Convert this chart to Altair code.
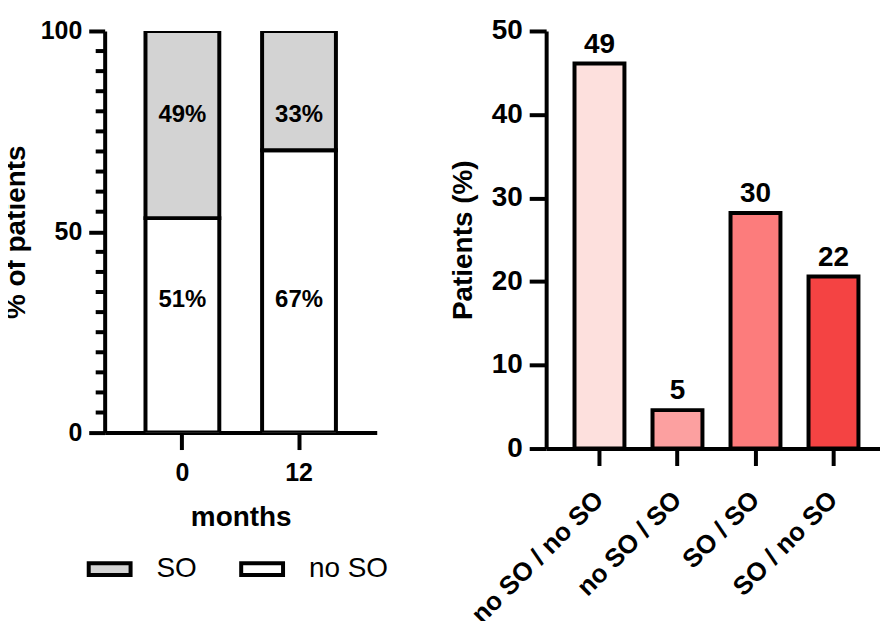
import altair as alt
import pandas as pd

FONT = "Liberation Sans"

# left panel: stacked share of patients at 0 and 12 months
months = ["0", "12"]
no_so_height = [53.4, 70.3]          # as drawn
no_so_label = ["51%", "67%"]
so_label = ["49%", "33%"]
no_so_label_y = [33, 33]
so_label_y = [79, 79]
minor_ticks = [5, 10, 15, 20, 25, 30, 35, 40, 45, 55, 60, 65, 70, 75, 80, 85, 90, 95]

# right panel: transitions 0 -> 12 months
groups = ["no SO / no SO", "no SO / SO", "SO / SO", "SO / no SO"]
group_pct = [46.1, 4.6, 28.2, 20.6]
group_label = ["49", "5", "30", "22"]
group_colors = ["#fde0dd", "#fca0a0", "#fc7c7c", "#f44343"]

rows = []
for m, h in zip(months, no_so_height):
    rows.append({"months": m, "status": "no SO", "y": 0, "y2": h})
    rows.append({"months": m, "status": "SO", "y": h, "y2": 100})
stack = pd.DataFrame(rows)

labels = pd.DataFrame({
    "months": months * 2,
    "text": no_so_label + so_label,
    "ypos": no_so_label_y + so_label_y,
})
minor = pd.DataFrame({"v": minor_ticks})

xl = alt.X("months:N", sort=months, title="months",
           scale=alt.Scale(paddingInner=0.367, paddingOuter=0.35),
           axis=alt.Axis(labelAngle=0, tickSize=17, labelPadding=11, titlePadding=18,
                         labelFontSize=25))
yscale = alt.Scale(domain=[0, 100], nice=False)

bars_left = alt.Chart(stack).mark_bar(stroke="black", strokeWidth=4, clip=True).encode(
    x=xl,
    y=alt.Y("y:Q", scale=yscale, title="% of patients",
            axis=alt.Axis(values=[0, 50, 100], tickSize=16, labelPadding=7, titlePadding=10,
                          labelFontSize=25)),
    y2="y2:Q",
    fill=alt.Fill("status:N", scale=alt.Scale(domain=["SO", "no SO"], range=["#d3d3d3", "white"]),
                  legend=alt.Legend(title=None, orient="none", legendX=-18, legendY=517,
                                    direction="horizontal",
                                    symbolType="M-1,-0.28H1V0.28H-1Z", symbolSize=1764,
                                    symbolStrokeColor="black", symbolStrokeWidth=4,
                                    labelFontSize=28, labelFontWeight="normal",
                                    labelOffset=24, columnPadding=36)),
)
text_left = alt.Chart(labels).mark_text(fontSize=24, fontWeight="bold", font=FONT).encode(
    x=alt.X("months:N", sort=months),
    y=alt.Y("ypos:Q", scale=yscale),
    text="text:N",
)
minor_left = alt.Chart(minor).mark_rule(strokeWidth=4, color="black").encode(
    y=alt.Y("v:Q", scale=yscale),
    x=alt.value(-9),
    x2=alt.value(0),
)
left = (bars_left + text_left + minor_left).properties(width=273, height=403)

right_df = pd.DataFrame({"group": groups, "pct": group_pct, "label": group_label})
base_r = alt.Chart(right_df).encode(
    x=alt.X("group:N", sort=groups, title=None,
            scale=alt.Scale(paddingInner=0.36, paddingOuter=0.371, align=0.49),
            axis=alt.Axis(labelAngle=-45, labelAlign="right", labelBaseline="middle",
                          tickSize=17, labelPadding=30, labelFontSize=26)),
    y=alt.Y("pct:Q", scale=alt.Scale(domain=[0, 50], nice=False), title="Patients (%)",
            axis=alt.Axis(values=[0, 10, 20, 30, 40, 50], tickSize=17, labelPadding=7,
                          titlePadding=14, labelFontSize=28)),
)
bars_right = base_r.mark_bar(stroke="black", strokeWidth=4).encode(
    fill=alt.Fill("group:N", scale=alt.Scale(domain=groups, range=group_colors), legend=None)
)
text_right = base_r.mark_text(dy=-19, fontSize=28, fontWeight="bold", font=FONT).encode(text="label:N")
right = (bars_right + text_right).properties(width=343, height=419)

chart = alt.hconcat(left, right, spacing=60).resolve_scale(
    fill="independent"
).resolve_legend(
    fill="independent"
).properties(
    padding={"left": -6, "top": 8, "right": -8, "bottom": -8}
).configure_view(
    stroke=None
).configure_axis(
    domainColor="black", domainWidth=4, tickColor="black", tickWidth=4,
    labelFont=FONT, labelFontSize=24, labelFontWeight="bold", labelColor="black",
    titleFont=FONT, titleFontSize=28, titleFontWeight="bold", titleColor="black",
    grid=False,
).configure_legend(
    labelFont=FONT, labelColor="black"
)

chart.save("out.html", embed_options={"renderer": "svg", "actions": False})
